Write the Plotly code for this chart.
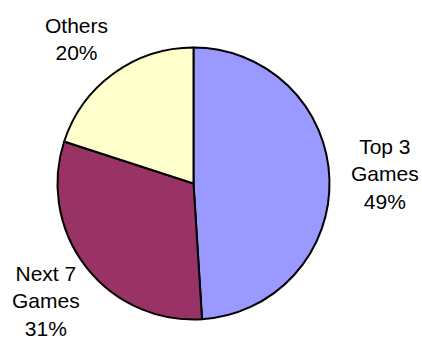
import plotly.graph_objects as go

labels = ["Top 3 Games", "Next 7 Games", "Others"]
label_lines = [["Top 3", "Games"], ["Next 7", "Games"], ["Others"]]
values = [49, 31, 20]
colors = ["#9999FF", "#993366", "#FFFFCC"]

W, H = 422, 340
cx, cy, r = 193.5, 183.5, 136

fig = go.Figure(go.Pie(
    labels=labels,
    values=values,
    sort=False,
    direction="clockwise",
    rotation=0,
    marker=dict(colors=colors, line=dict(color="black", width=2)),
    textinfo="none",
    hoverinfo="label+percent",
    showlegend=False,
    domain=dict(x=[(cx - r) / W, (cx + r) / W],
                y=[(H - cy - r) / H, (H - cy + r) / H]),
))

# label anchor positions (pixels, top-left origin) for each slice
label_pos = [(385, 174), (46, 301), (76, 39)]
total = sum(values)
annotations = []
for lines, v, (x, y) in zip(label_lines, values, label_pos):
    txt = "<br>".join(lines + [f"{round(100 * v / total)}%"])
    annotations.append(dict(
        x=x / W, y=1 - y / H, xref="paper", yref="paper",
        text=txt, showarrow=False, xanchor="center", yanchor="middle",
        align="center",
        font=dict(family="Arial, Liberation Sans, sans-serif", size=21, color="black"),
    ))

fig.update_layout(
    width=W, height=H,
    margin=dict(l=0, r=0, t=0, b=0),
    paper_bgcolor="white", plot_bgcolor="white",
    annotations=annotations,
)
fig.write_html("out.html", config={"displayModeBar": False},
               post_script="document.body.style.margin='0';document.body.style.overflow='hidden';")
